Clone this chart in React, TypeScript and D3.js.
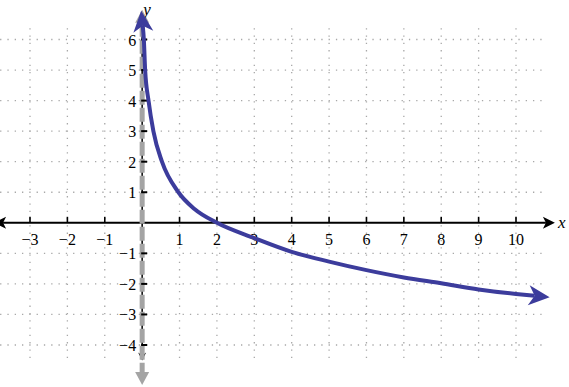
import React from "react";
import * as d3 from "d3";

const W = 569;
const H = 387;

const xTicks = [-3, -2, -1, 0, 1, 2, 3, 4, 5, 6, 7, 8, 9, 10];
const yTicks = [-4, -3, -2, -1, 0, 1, 2, 3, 4, 5, 6];
const xLabels = ["−3", "−2", "−1", "", "1", "2", "3", "4", "5", "6", "7", "8", "9", "10"];
const yLabels = ["−4", "−3", "−2", "−1", "", "1", "2", "3", "4", "5", "6"];

// curve points
const curveX = [0.015, 0.045, 0.08, 0.17, 0.3, 0.53, 0.97, 1.4, 2, 3, 4, 5, 6, 7, 8, 9, 10, 10.5];
const curveY = [6.45, 6, 5, 4, 3, 2, 1, 0.45, 0, -0.5, -0.95, -1.27, -1.55, -1.79, -1.98, -2.18, -2.33, -2.39];

const x = d3.scaleLinear().domain([-3, 10]).range([30, 516]);
const y = d3.scaleLinear().domain([-4, 6]).range([345, 39.5]);

const BLUE = "#3c3c9c";
const GRID = "#a8a8a8";
const GRAY = "#a4a4a4";
const FONT = "Liberation Serif, DejaVu Serif, Times New Roman, serif";

export default function App() {
  const pts: [number, number][] = curveX.map((v, i) => [v, curveY[i]]);
  const line = d3
    .line<[number, number]>()
    .x((d) => x(d[0]))
    .y((d) => y(d[1]))
    .curve(d3.curveMonotoneX);
  const path = line(pts) || "";

  const x0 = x(0);
  const y0 = y(0);
  const gridTop = y(6.37);
  const gridBottom = y(-4.6);
  const gridLeft = x(-3.8);
  const gridRight = x(10.75);

  return (
    <svg
      width={W}
      height={H}
      style={{ position: "absolute", left: 0, top: 0, background: "#fff", fontFamily: FONT }}
    >
      <defs>
        <marker
          id="blueArrow"
          markerUnits="userSpaceOnUse"
          markerWidth={40}
          markerHeight={40}
          viewBox="-20 -20 40 40"
          refX={0}
          refY={0}
          orient="auto-start-reverse"
        >
          <path d="M15,0 L-6,-10 L0,0 L-6,10 Z" fill={BLUE} />
        </marker>
      </defs>

      {/* grid */}
      <g stroke={GRID} strokeWidth={1.3} strokeDasharray="1.3 6">
        {xTicks
          .filter((t) => t !== 0)
          .map((t) => (
            <line key={"gx" + t} x1={x(t)} x2={x(t)} y1={gridTop} y2={gridBottom} />
          ))}
        {yTicks
          .filter((t) => t !== 0)
          .map((t) => (
            <line key={"gy" + t} x1={gridLeft} x2={gridRight} y1={y(t)} y2={y(t)} />
          ))}
      </g>

      {/* x axis */}
      <line x1={x(-3.72)} x2={x(10.8)} y1={y0} y2={y0} stroke="#000" strokeWidth={2} />
      <path
        d={`M${x(-3.72) - 9},${y0} L${x(-3.72) + 3},${y0 - 6} L${x(-3.72)},${y0} L${x(-3.72) + 3},${y0 + 6} Z`}
        fill="#000"
      />
      <path
        d={`M${x(10.8) + 9},${y0} L${x(10.8) - 3},${y0 - 6} L${x(10.8)},${y0} L${x(10.8) - 3},${y0 + 6} Z`}
        fill="#000"
      />
      {xTicks
        .filter((t) => t !== 0)
        .map((t) => (
          <line key={"xt" + t} x1={x(t)} x2={x(t)} y1={y0} y2={y0 - 6} stroke="#000" strokeWidth={1.6} />
        ))}

      {/* y axis (black) */}
      <line x1={x0} x2={x0} y1={y(6.5)} y2={y(-4.38)} stroke="#000" strokeWidth={1.5} />
      <path
        d={`M${x0},${y(-4.38) + 4} L${x0 - 4},${y(-4.38) - 4} L${x0},${y(-4.38) - 1} L${x0 + 4},${y(-4.38) - 4} Z`}
        fill="#000"
      />

      {/* asymptote (gray dashed) */}
      <line
        x1={x0}
        x2={x0}
        y1={y(6.55)}
        y2={y(-4.88)}
        stroke={GRAY}
        strokeWidth={5}
        strokeDasharray="14 3"
      />
      <path
        d={`M${x0 - 7},${y(-4.88)} L${x0 + 7},${y(-4.88)} L${x0},${y(-4.88) + 13} Z`}
        fill={GRAY}
      />
      <path
        d={`M${x0 - 7},${y(6.55)} L${x0 + 7},${y(6.55)} L${x0},${y(6.55) - 13} Z`}
        fill={GRAY}
      />

      {/* y ticks */}
      {yTicks
        .filter((t) => t !== 0)
        .map((t) => (
          <line key={"yt" + t} x1={x0 - 1} x2={x0 + 5} y1={y(t)} y2={y(t)} stroke="#000" strokeWidth={2} />
        ))}

      {/* labels */}
      <g style={{ fontFamily: FONT }} fontSize={16} fill="#000">
        {xTicks.map((t, i) =>
          xLabels[i] ? (
            <text key={"xl" + t} x={x(t)} y={y0 + 22} textAnchor="middle">
              {xLabels[i]}
            </text>
          ) : null
        )}
        {yTicks.map((t, i) =>
          yLabels[i] ? (
            <text key={"yl" + t} x={x0 - 6} y={y(t) + 6} textAnchor="end">
              {yLabels[i]}
            </text>
          ) : null
        )}
        <text x={x(10.8) + 12} y={y0 + 5} fontStyle="italic" fontSize={17}>
          x
        </text>
        <text x={x0 + 1} y={y(6.8)} fontStyle="italic" fontSize={17}>
          y
        </text>
      </g>

      {/* curve */}
      <path
        d={path}
        fill="none"
        stroke={BLUE}
        strokeWidth={4}
        markerStart="url(#blueArrow)"
        markerEnd="url(#blueArrow)"
      />
    </svg>
  );
}
